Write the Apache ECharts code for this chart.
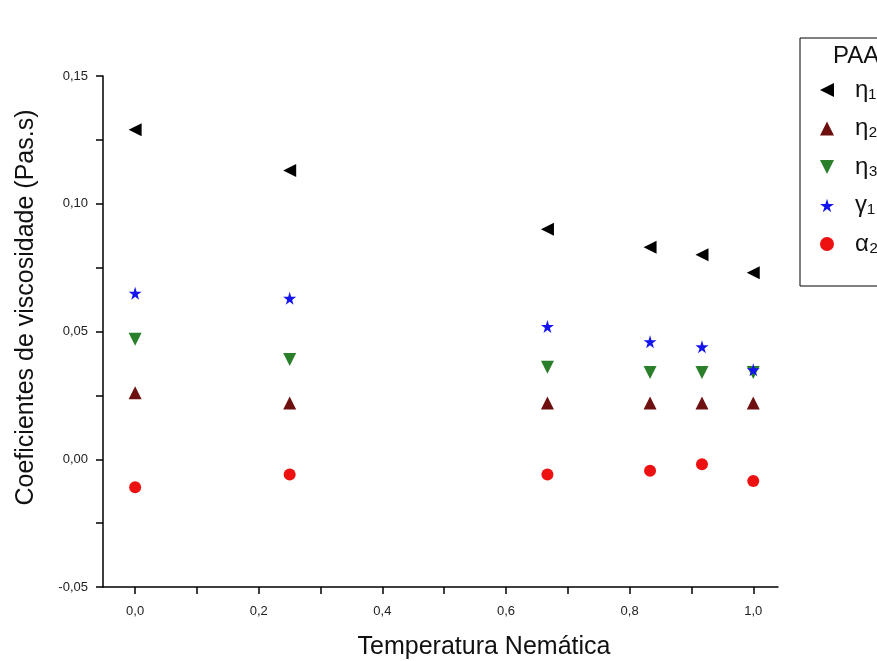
<!DOCTYPE html>
<html>
<head>
<meta charset="utf-8">
<script src="https://cdn.jsdelivr.net/npm/echarts@6/dist/echarts.min.js"></script>
<style>
html,body{margin:0;padding:0;background:#fff;}
#chart{width:877px;height:661px;}
</style>
</head>
<body>
<div id="chart"></div>
<script>
// Data
var temperatures = [0, 0.25, 0.667, 0.833, 0.917, 1.0];
var eta1  = [0.129, 0.113, 0.090, 0.083, 0.080, 0.073];
var eta2  = [0.026, 0.022, 0.022, 0.022, 0.022, 0.022];
var eta3  = [0.047, 0.039, 0.036, 0.034, 0.034, 0.034];
var gamma1 = [0.065, 0.063, 0.052, 0.046, 0.044, 0.035];
var alpha = [-0.011, -0.006, -0.006, -0.0045, -0.002, -0.0085];
var seriesNames = ['η\u2081', 'η\u2082', 'η\u2083', 'γ\u2081', 'α\u2082'];
var xTickValues = [0, 0.1, 0.2, 0.3, 0.4, 0.5, 0.6, 0.7, 0.8, 0.9, 1.0];
var xLabelValues = [0, 0.2, 0.4, 0.6, 0.8, 1.0];
var yTickValues = [-0.05, -0.025, 0, 0.025, 0.05, 0.075, 0.1, 0.125, 0.15];
var yLabelValues = [-0.05, 0, 0.05, 0.1, 0.15];
var legendTitle = 'PAA';

function pairs(ys){ return temperatures.map(function(x,i){ return [x, ys[i]]; }); }

var star = 'path://M50,0 L61,35 L98,35 L68,57 L79,91 L50,70 L21,91 L32,57 L2,35 L39,35 Z';
var triLeft = 'path://M0,50 L100,0 L100,100 Z';
var triUp = 'path://M50,0 L100,100 L0,100 Z';
var triDown = 'path://M0,0 L100,0 L50,100 Z';
var font = 'Liberation Sans, Arial, sans-serif';

var chart = echarts.init(document.getElementById('chart'));
chart.setOption({
  backgroundColor: '#fff',
  animation: false,
  title: {
    text: legendTitle, left: 833, top: 44, padding: 0,
    textStyle: { fontFamily: font, fontSize: 24, fontWeight: 'normal', color: '#111' }
  },
  legend: {
    orient: 'vertical',
    left: 800, top: 38,
    padding: [40, 60, 30, 20],
    itemGap: 14.5,
    itemWidth: 14, itemHeight: 14,
    borderColor: '#000', borderWidth: 1,
    textStyle: { fontFamily: font, fontSize: 24, color: '#111', padding: [0, 0, 0, 16] },
    data: seriesNames
  },
  grid: { left: 103, right: 99, top: 76, bottom: 74, containLabel: false, outerBoundsMode: 'none' },
  xAxis: {
    type: 'value', min: -0.052, max: 1.04,
    name: 'Temperatura Nemática', nameLocation: 'middle', nameGap: 48,
    nameTextStyle: { fontFamily: font, fontSize: 25, color: '#111', padding: [0, 0, 0, 87] },
    axisLine: { onZero: false, lineStyle: { color: '#000', width: 1.5 } },
    axisTick: { show: true, length: 7, customValues: xTickValues, lineStyle: { color: '#000', width: 1.5 } },
    axisLabel: {
      customValues: xLabelValues, color: '#222', fontFamily: font, fontSize: 13, margin: 18,
      formatter: function(v){ return v.toFixed(1).replace('.', ','); }
    },
    splitLine: { show: false }
  },
  yAxis: {
    type: 'value', min: -0.05, max: 0.15,
    name: 'Coeficientes de viscosidade (Pas.s)', nameLocation: 'middle', nameGap: 64,
    nameTextStyle: { fontFamily: font, fontSize: 25, color: '#111', padding: [0, 0, 0, 48] },
    axisLine: { show: true, onZero: false, lineStyle: { color: '#000', width: 1.5 } },
    axisTick: { show: true, length: 7, customValues: yTickValues, lineStyle: { color: '#000', width: 1.5 } },
    axisLabel: {
      customValues: yLabelValues, color: '#222', fontFamily: font, fontSize: 13, margin: 15,
      formatter: function(v){ return (Math.abs(v) < 1e-9 ? 0 : v).toFixed(2).replace('.', ','); }
    },
    splitLine: { show: false }
  },
  series: [
    { name: seriesNames[0], type: 'scatter', data: pairs(eta1), symbol: triLeft, symbolSize: 13, itemStyle: { color: '#000', opacity: 1 } },
    { name: seriesNames[1], type: 'scatter', data: pairs(eta2), symbol: triUp, symbolSize: 13, itemStyle: { color: '#6e1010', opacity: 1 } },
    { name: seriesNames[2], type: 'scatter', data: pairs(eta3), symbol: triDown, symbolSize: 13, itemStyle: { color: '#2a7f2a', opacity: 1 } },
    { name: seriesNames[3], type: 'scatter', data: pairs(gamma1), symbol: star, symbolSize: 13, itemStyle: { color: '#1414ee', opacity: 1 } },
    { name: seriesNames[4], type: 'scatter', data: pairs(alpha), symbol: 'circle', symbolSize: 12, itemStyle: { color: '#ee1111', opacity: 1 } }
  ]
});
</script>
</body>
</html>
